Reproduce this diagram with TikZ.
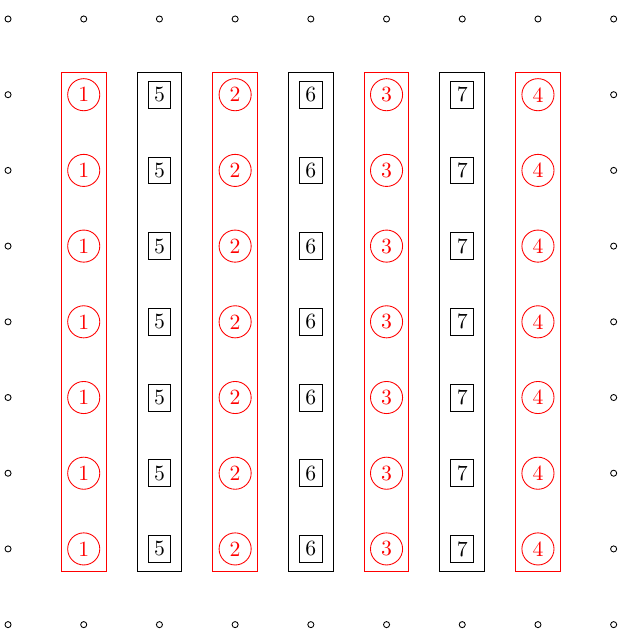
\documentclass[tikz,border=0pt]{standalone}
\begin{document}
\begin{tikzpicture}[x=34.9pt,y=34.9pt,
  dotmark/.style={circle,draw,inner sep=0pt,minimum size=2.8pt},
  rnum/.style={circle,draw=red,text=red,inner sep=0pt,minimum size=14.8pt},
  bnum/.style={rectangle,draw,inner sep=0pt,minimum width=10.6pt,minimum height=12.4pt},
  colbox/.style={rectangle,inner sep=0pt,minimum width=20.6pt,minimum height=230.3pt}]
\useasboundingbox (-0.106,-8.071) rectangle (8.108,0.251);
\foreach \i in {0,...,8} {
  \node[dotmark] (t\i) at (\i,0) {};
  \node[dotmark] (b\i) at (\i,-8) {};
}
\foreach \j in {1,...,7} {
  \node[dotmark] (l\j) at (0,-\j) {};
  \node[dotmark] (r\j) at (8,-\j) {};
}
\foreach \c/\n in {1/1,3/2,5/3,7/4} {
  \node[colbox,draw=red] (box\c) at (\c,-4) {};
  \foreach \j in {1,...,7} {
    \node[rnum] (n\c-\j) at (\c,-\j) {\n};
  }
}
\foreach \c/\n in {2/5,4/6,6/7} {
  \node[colbox,draw] (box\c) at (\c,-4) {};
  \foreach \j in {1,...,7} {
    \node[bnum] (n\c-\j) at (\c,-\j) {\n};
  }
}
\end{tikzpicture}
\end{document}
